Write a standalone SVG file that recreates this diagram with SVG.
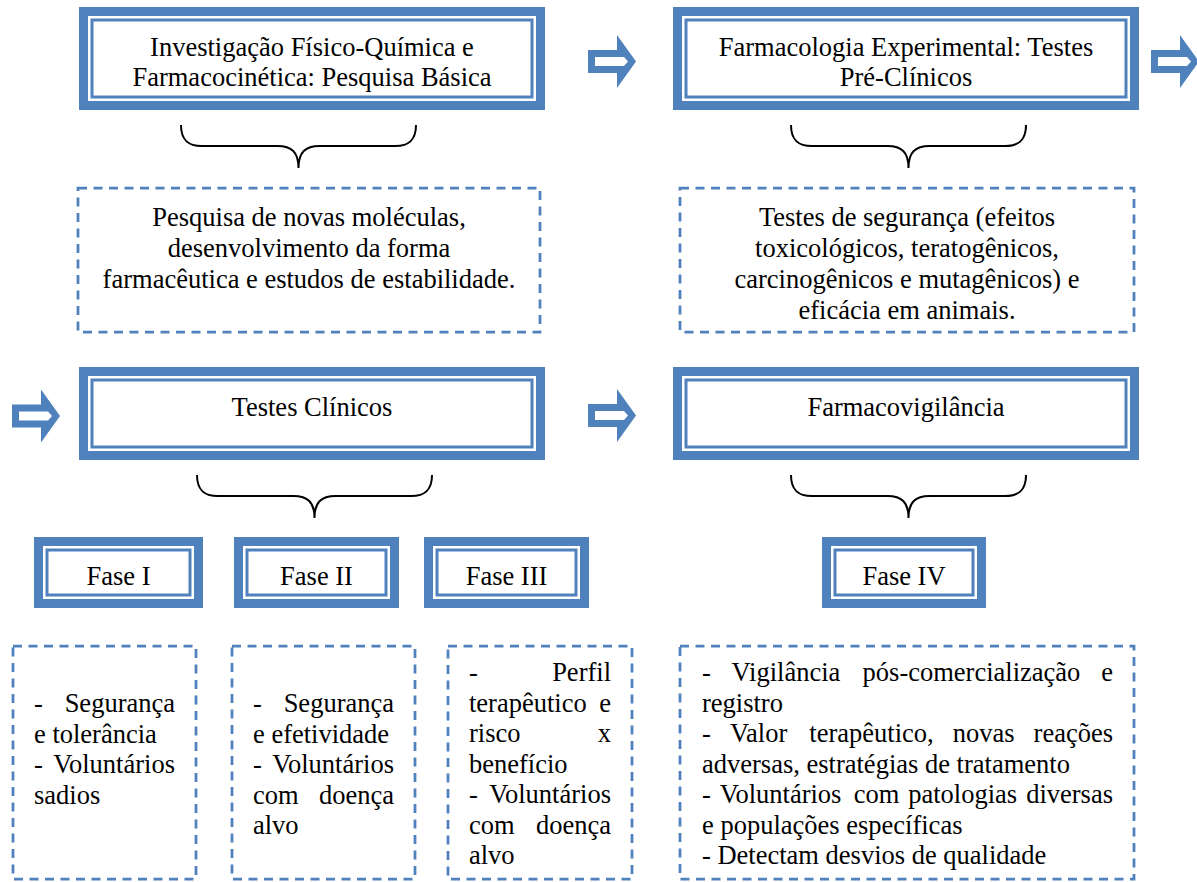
<svg xmlns="http://www.w3.org/2000/svg" xmlns:xlink="http://www.w3.org/1999/xlink" width="1197" height="882" viewBox="0 0 1197 882">
<style>
text{font-family:"Liberation Serif","Times New Roman",serif;font-size:26.5px;fill:#000}
.c{text-anchor:middle}
.e{text-anchor:end}
.fo{fill:#fff;stroke:#4F81BD;stroke-width:9}
.fi{fill:none;stroke:#4F81BD;stroke-width:3}
.d{fill:#fff;stroke:#4F81BD;stroke-width:2.75;stroke-dasharray:9 6.5}
.br{fill:none;stroke:#000;stroke-width:2}
</style>
<defs>
<g id="arr">
<path d="M0,-11.5 H29 V-26.5 L48,0 L29,26.5 V11.5 H0 Z" fill="#4F81BD"/>
<path d="M7,-4.5 H36 L40,0 L36,4.5 H7 Z" fill="#fff"/>
</g>
<path id="brace" class="br" d="M0,0 C0,15 7,21 21,21 H96.5 C110.5,21 117.5,27 117.5,43 C117.5,27 124.5,21 138.5,21 H214 C228,21 235,15 235,0"/>
</defs>
<rect width="1197" height="882" fill="#fff"/>

<g id="connectors">
<use xlink:href="#arr" x="588" y="61.5"/>
<use xlink:href="#arr" x="1151" y="61.5"/>
<use xlink:href="#arr" x="12" y="416"/>
<use xlink:href="#arr" x="588" y="415.5"/>
<use xlink:href="#brace" x="181" y="125"/>
<use xlink:href="#brace" x="791" y="125"/>
<use xlink:href="#brace" x="197" y="475"/>
<use xlink:href="#brace" x="791" y="475"/>
</g>

<g id="n-pesquisa-basica">
<rect class="fo" x="83.5" y="11.5" width="457" height="94"/>
<rect class="fi" x="92" y="20" width="440" height="77"/>
<text class="c" x="312" y="56">Investigação Físico-Química e</text>
<text class="c" x="312" y="86">Farmacocinética: Pesquisa Básica</text>
</g>

<g id="n-preclinicos">
<rect class="fo" x="677.5" y="11.5" width="457" height="94"/>
<rect class="fi" x="686" y="20" width="440" height="77"/>
<text class="c" x="906" y="56">Farmacologia Experimental: Testes</text>
<text class="c" x="906" y="86">Pré-Clínicos</text>
</g>

<g id="n-desc-basica">
<rect class="d" x="78" y="188" width="462" height="144"/>
<text class="c" x="309" y="226">Pesquisa de novas moléculas,</text>
<text class="c" x="309" y="257">desenvolvimento da forma</text>
<text class="c" x="309" y="288">farmacêutica e estudos de estabilidade.</text>
</g>

<g id="n-desc-preclinicos">
<rect class="d" x="680" y="188" width="454" height="144"/>
<text class="c" x="907" y="226">Testes de segurança (efeitos</text>
<text class="c" x="907" y="257">toxicológicos, teratogênicos,</text>
<text class="c" x="907" y="288">carcinogênicos e mutagênicos) e</text>
<text class="c" x="907" y="319">eficácia em animais.</text>
</g>

<g id="n-testes-clinicos">
<rect class="fo" x="83.5" y="371.5" width="457" height="84"/>
<rect class="fi" x="92" y="380" width="440" height="67"/>
<text class="c" x="312" y="416">Testes Clínicos</text>
</g>

<g id="n-farmacovigilancia">
<rect class="fo" x="677.5" y="371.5" width="457" height="84"/>
<rect class="fi" x="686" y="380" width="440" height="67"/>
<text class="c" x="906" y="416">Farmacovigilância</text>
</g>

<g id="n-fase1">
<rect class="fo" x="38.5" y="541.5" width="160" height="62"/>
<rect class="fi" x="47" y="550" width="143" height="45"/>
<text class="c" x="118.5" y="585">Fase I</text>
</g>
<g id="n-fase2">
<rect class="fo" x="238.5" y="541.5" width="156" height="62"/>
<rect class="fi" x="247" y="550" width="139" height="45"/>
<text class="c" x="316.5" y="585">Fase II</text>
</g>
<g id="n-fase3">
<rect class="fo" x="428.5" y="541.5" width="156" height="62"/>
<rect class="fi" x="437" y="550" width="139" height="45"/>
<text class="c" x="506.5" y="585">Fase III</text>
</g>
<g id="n-fase4">
<rect class="fo" x="826.5" y="541.5" width="155" height="62"/>
<rect class="fi" x="835" y="550" width="138" height="45"/>
<text class="c" x="904" y="585">Fase IV</text>
</g>

<g id="n-desc-fase1">
<rect class="d" x="13" y="646" width="183" height="233"/>
<text x="34" y="712">-</text><text class="e" x="175" y="712">Segurança</text>
<text x="34" y="742.5">e tolerância</text>
<text x="34" y="773">-</text><text class="e" x="175" y="773">Voluntários</text>
<text x="34" y="803.5">sadios</text>
</g>

<g id="n-desc-fase2">
<rect class="d" x="232" y="646" width="183" height="233"/>
<text x="253" y="712">-</text><text class="e" x="394" y="712">Segurança</text>
<text x="253" y="742.5">e efetividade</text>
<text x="253" y="773">-</text><text class="e" x="394" y="773">Voluntários</text>
<text x="253" y="803.5">com</text><text class="e" x="394" y="803.5">doença</text>
<text x="253" y="834">alvo</text>
</g>

<g id="n-desc-fase3">
<rect class="d" x="448" y="646" width="184" height="233"/>
<text x="469" y="681">-</text><text class="e" x="611" y="681">Perfil</text>
<text x="469" y="711.5">terapêutico</text><text class="e" x="611" y="711.5">e</text>
<text x="469" y="742">risco</text><text class="e" x="611" y="742">x</text>
<text x="469" y="772.5">benefício</text>
<text x="469" y="803">-</text><text class="e" x="611" y="803">Voluntários</text>
<text x="469" y="833.5">com</text><text class="e" x="611" y="833.5">doença</text>
<text x="469" y="864">alvo</text>
</g>

<g id="n-desc-fase4">
<rect class="d" x="680" y="646" width="454" height="233"/>
<text x="702" y="681">-</text><text x="731.5" y="681">Vigilância</text><text x="862.6" y="681">pós-comercialização</text><text class="e" x="1113" y="681">e</text>
<text x="702" y="711.5">registro</text>
<text x="702" y="742">-</text><text x="729.9" y="742">Valor</text><text x="809.3" y="742">terapêutico,</text><text x="952.8" y="742">novas</text><text class="e" x="1113" y="742">reações</text>
<text x="702" y="772.5">adversas, estratégias de tratamento</text>
<text x="702" y="803">-</text><text x="719.7" y="803">Voluntários</text><text x="853.7" y="803">com</text><text x="908.2" y="803">patologias</text><text class="e" x="1113" y="803">diversas</text>
<text x="702" y="833.5">e populações específicas</text>
<text x="702" y="864">- Detectam desvios de qualidade</text>
</g>
</svg>
